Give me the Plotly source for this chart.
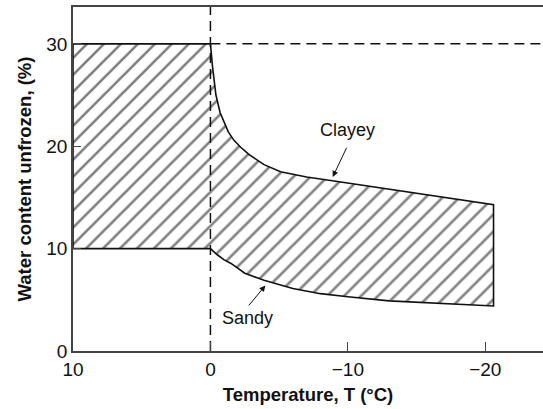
import plotly.graph_objects as go

# Data
clayey_T = [0, -0.15, -0.4, -0.7, -1.0, -1.3, -1.7, -2.2, -2.8, -3.9, -5.1, -7.0, -9.0, -12.0, -15.0, -18.0, -20.6]
clayey_w = [30, 27.8, 25.0, 23.3, 22.3, 21.4, 20.6, 19.9, 19.2, 18.2, 17.5, 17.0, 16.6, 16.0, 15.4, 14.8, 14.3]
sandy_T = [0, -0.5, -1.0, -1.5, -2.5, -3.9, -6.0, -8.0, -10.0, -13.0, -16.0, -20.6]
sandy_w = [10, 9.4, 8.9, 8.55, 7.6, 6.9, 6.1, 5.6, 5.3, 4.9, 4.7, 4.4]
unfrozen_T = [10, 0]          # above freezing: constant range
unfrozen_upper = [30, 30]
unfrozen_lower = [10, 10]
freeze_T = 0
max_content = 30
x_ticks = [10, 0, -10, -20]
y_ticks = [0, 10, 20, 30]

FONT = "Liberation Sans, Arial, Helvetica, sans-serif"
INK = "#111111"

# Closed outline of the hatched region
poly_x = unfrozen_T + clayey_T[1:] + sandy_T[::-1] + unfrozen_T[::-1]
poly_y = unfrozen_upper + clayey_w[1:] + sandy_w[::-1] + unfrozen_lower[::-1]
poly_x = poly_x + [poly_x[0]]
poly_y = poly_y + [poly_y[0]]

fig = go.Figure()

fig.add_trace(go.Scatter(
    x=poly_x, y=poly_y, mode="lines", fill="toself",
    fillcolor="white",
    fillpattern=dict(shape="/", size=12, solidity=0.22, fgcolor="#000000", bgcolor="white"),
    line=dict(color=INK, width=1.6),
    hoverinfo="skip", showlegend=False,
))

# Dashed reference lines
fig.add_trace(go.Scatter(
    x=[freeze_T, freeze_T], y=[0, 33.6], mode="lines",
    line=dict(color=INK, width=1.5, dash="10px,6px"),
    hoverinfo="skip", showlegend=False,
))
fig.add_trace(go.Scatter(
    x=[freeze_T, -24.2], y=[max_content, max_content], mode="lines",
    line=dict(color=INK, width=1.5, dash="10px,6px"),
    hoverinfo="skip", showlegend=False,
))

# Labels and arrows
fig.add_annotation(x=-9.96, y=21.6, text="Clayey", showarrow=False,
                   font=dict(family=FONT, size=18, color=INK))
fig.add_annotation(x=-8.9, y=17.0, ax=-9.96, ay=20.0, axref="x", ayref="y",
                   text="", showarrow=True, arrowhead=2, arrowsize=1.2,
                   arrowwidth=1, arrowcolor=INK)
fig.add_annotation(x=-2.7, y=3.2, text="Sandy", showarrow=False,
                   font=dict(family=FONT, size=18, color=INK))
fig.add_annotation(x=-4.0, y=6.4, ax=-2.7, ay=4.3, axref="x", ayref="y",
                   text="", showarrow=True, arrowhead=2, arrowsize=1.2,
                   arrowwidth=1, arrowcolor=INK)

fig.update_layout(
    width=543, height=409,
    margin=dict(l=73, r=0, t=7, b=58),
    paper_bgcolor="white", plot_bgcolor="white",
    font=dict(family=FONT, size=18, color=INK),
    xaxis=dict(
        range=[10, -24.2], tickvals=x_ticks, ticks="inside", ticklen=9,
        tickwidth=1.2, tickcolor="#444", showgrid=False, zeroline=False,
        showline=True, linecolor="#444", linewidth=1.5, mirror=True,
        automargin=False,
        tickfont=dict(family=FONT, size=19, color=INK),
        title=dict(text="<b>Temperature, T (°C)</b>", standoff=10,
                   font=dict(family=FONT, size=18.5, color=INK)),
    ),
    yaxis=dict(
        range=[0, 33.6], tickvals=y_ticks, ticks="inside", ticklen=8,
        tickwidth=1.2, tickcolor="#444", showgrid=False, zeroline=False,
        showline=True, linecolor="#444", linewidth=1.5,
        automargin=False,
        tickfont=dict(family=FONT, size=19, color=INK),
        title=dict(text="<b>Water content unfrozen, (%)</b>", standoff=10,
                   font=dict(family=FONT, size=18.5, color=INK)),
    ),
)

fig.write_html("out.html", config={"displayModeBar": False},
               post_script="document.body.style.margin='0';")
